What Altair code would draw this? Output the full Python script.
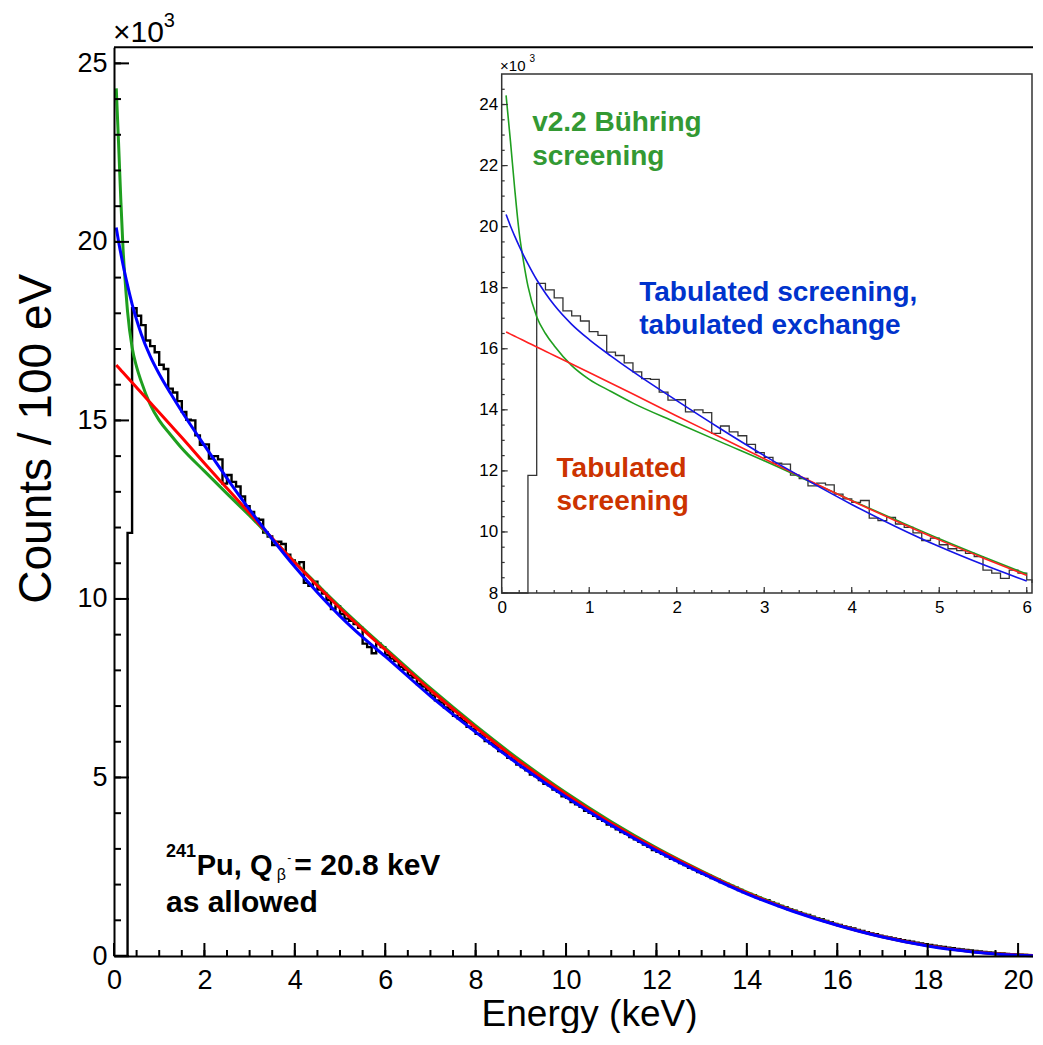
import altair as alt
import pandas as pd

# ---------------- data (counts in units of 10^3 per 100 eV bin) ----------------
BIN_W = 0.1  # keV, bins start at 0.0
HIST_K = [
    0.0, 0.0, 0.0,
    11.85, 18.14, 17.93, 17.67, 17.24, 17.08, 16.91, 16.56,
    16.44, 15.89, 15.78, 15.54, 15.24, 15.02, 15.00, 14.58, 14.32, 14.33,
    13.93, 14.00, 13.91, 13.23, 13.47, 13.28, 13.15, 12.87, 12.60, 12.44,
    12.25, 12.22, 11.86, 11.75, 11.51, 11.60, 11.54, 11.24, 11.08, 10.97,
    11.03, 10.45, 10.37, 10.48, 10.26, 10.15, 9.97, 9.72, 9.80, 9.58,
    9.45, 9.39, 9.30, 9.19, 8.75, 8.65, 8.48, 8.75, 8.65, 8.43,
    8.33, 8.26, 8.10, 8.02, 7.86, 7.80, 7.62, 7.55, 7.44, 7.30,
    7.16, 7.10, 6.96, 6.90, 6.73, 6.66, 6.58, 6.42, 6.36, 6.22,
    6.18, 6.02, 5.96, 5.88, 5.74, 5.70, 5.55, 5.50, 5.36, 5.29,
    5.20, 5.08, 5.04, 4.93, 4.82, 4.78, 4.66, 4.60, 4.47, 4.43,
    4.31, 4.25, 4.18, 4.07, 4.01, 3.93, 3.84, 3.79, 3.68, 3.63,
    3.55, 3.47, 3.42, 3.33, 3.27, 3.20, 3.12, 3.06, 2.97, 2.92,
    2.86, 2.79, 2.72, 2.68, 2.60, 2.55, 2.47, 2.43, 2.35, 2.30,
    2.25, 2.18, 2.14, 2.07, 2.02, 1.96, 1.91, 1.85, 1.79, 1.74,
    1.70, 1.64, 1.59, 1.56, 1.50, 1.46, 1.40, 1.37, 1.31, 1.27,
    1.23, 1.18, 1.15, 1.10, 1.06, 1.03, 0.98, 0.95, 0.90, 0.87,
    0.83, 0.80, 0.77, 0.73, 0.70, 0.67, 0.63, 0.61, 0.57, 0.54,
    0.52, 0.49, 0.47, 0.44, 0.42, 0.40, 0.37, 0.35, 0.33, 0.31,
    0.29, 0.27, 0.25, 0.235, 0.22, 0.20, 0.185, 0.17, 0.155, 0.14,
    0.125, 0.11, 0.10, 0.09, 0.08, 0.068, 0.058, 0.05, 0.042, 0.034,
    0.027, 0.021, 0.016, 0.011, 0.007, 0.004, 0.001,
]

CURVE_E = [0.05, 0.1, 0.15, 0.2, 0.25, 0.3, 0.4, 0.5, 0.6, 0.8, 1.0, 1.25, 1.5,
           2.0, 2.5, 3.0, 3.5, 4.0, 4.5, 5.0, 5.5, 6.0,
           7, 8, 9, 10, 11, 12, 13, 14, 15, 16, 17, 18, 19, 20, 20.8]
GREEN_K = [24.3, 22.8, 21.2, 19.8, 18.85, 18.05, 17.05, 16.5, 16.1, 15.45, 15.0, 14.6, 14.22,
           13.58, 12.95, 12.33, 11.68, 11.03, 10.4, 9.78, 9.19, 8.62,
           7.5, 6.45, 5.47, 4.57, 3.76, 3.03, 2.38, 1.79, 1.29, 0.88, 0.54, 0.29, 0.12, 0.025, 0.0]
RED_K = [16.55, 16.48, 16.41, 16.34, 16.27, 16.2, 16.06, 15.92, 15.78, 15.5, 15.22, 14.87, 14.52,
         13.8, 13.1, 12.4, 11.7, 11.02, 10.37, 9.74, 9.15, 8.58,
         7.45, 6.4, 5.42, 4.53, 3.72, 3.0, 2.36, 1.77, 1.28, 0.87, 0.54, 0.29, 0.12, 0.025, 0.0]
BLUE_K = [20.4, 20.02, 19.68, 19.36, 19.06, 18.78, 18.26, 17.82, 17.43, 16.8, 16.3, 15.76, 15.25,
          14.3, 13.38, 12.5, 11.68, 10.9, 10.18, 9.52, 8.93, 8.39,
          7.28, 6.27, 5.32, 4.45, 3.66, 2.95, 2.32, 1.74, 1.26, 0.86, 0.53, 0.28, 0.115, 0.022, 0.0]

MAIN_X_TICKS = [0, 2, 4, 6, 8, 10, 12, 14, 16, 18, 20]
MAIN_X_MINOR = [i * 0.5 for i in range(0, 41)]
MAIN_Y_TICKS = [0, 5, 10, 15, 20, 25]
MAIN_Y_MINOR = list(range(0, 26))
INSET_X_TICKS = [0, 1, 2, 3, 4, 5, 6]
INSET_X_MINOR = [round(i * 0.2, 1) for i in range(0, 31)]
INSET_Y_TICKS = [8, 10, 12, 14, 16, 18, 20, 22, 24]
INSET_Y_MINOR = [8 + i * 0.5 for i in range(0, 34)]

# annotations: text, x (keV), y (10^3 counts), colour, size
BOLD_TEXT = ["v2.2 Bühring", "screening", "Tabulated screening,", "tabulated exchange",
             "Tabulated", "screening", "241", "Pu, Q", "= 20.8 keV", "as allowed"]
BOLD_X = [9.25, 9.25, 11.62, 11.62, 9.79, 9.79, 1.15, 1.83, 3.99, 1.15]
BOLD_Y = [23.11, 22.16, 18.35, 17.42, 13.42, 12.49, 2.773, 2.269, 2.269, 1.23]
BOLD_C = ["#339933", "#339933", "#0033cc", "#0033cc", "#cc3300", "#cc3300",
          "black", "black", "black", "black"]
BOLD_S = [28, 28, 28, 28, 28, 28, 18, 29, 30, 30]

NORM_TEXT = ["β", "-", "×10", "3", "×10", "3"]
NORM_X = [3.60, 3.83, -0.02, 1.10, 8.54, 9.19]
NORM_Y = [2.13, 2.64, 25.6, 26.02, 24.79, 25.04]
NORM_S = [16, 12, 30, 20, 15, 10]

# ---------------- layout ----------------
PLOT_W, PLOT_H = 919.0, 908.7
X_MAX, Y_MAX = 20.33, 25.45
INS_X, INS_Y = [0, 6.06], [8, 25]
INS_XR, INS_YR = [387.7, 918.0], [545.7, 26.7]
FONT = "Liberation Sans"

edges = [round(i * BIN_W, 1) for i in range(len(HIST_K) + 1)]
hist_df = pd.DataFrame({"E": edges, "v": HIST_K + [HIST_K[-1]]})
curve_df = pd.DataFrame({"E": CURVE_E, "green": GREEN_K, "red": RED_K, "blue": BLUE_K})
frame_df = pd.DataFrame({"x0": [INS_X[0]], "x1": [INS_X[1]], "y0": [INS_Y[0]], "y1": [INS_Y[1]]})
top_df = pd.DataFrame({"y": [Y_MAX]})
bold_df = pd.DataFrame({"t": BOLD_TEXT, "x": BOLD_X, "y": BOLD_Y, "c": BOLD_C, "s": BOLD_S})
norm_df = pd.DataFrame({"t": NORM_TEXT, "x": NORM_X, "y": NORM_Y, "s": NORM_S})


def mxs():
    return alt.Scale(domain=[0, X_MAX], nice=False, zero=False)


def mys():
    return alt.Scale(domain=[0, Y_MAX], nice=False, zero=False)


def ixs():
    return alt.Scale(domain=INS_X, range=INS_XR, nice=False, zero=False, clamp=True)


def iys():
    return alt.Scale(domain=INS_Y, range=INS_YR, nice=False, zero=False, clamp=True)


ax_x_lab = alt.Axis(orient="bottom", values=MAIN_X_TICKS, ticks=False, domain=True,
                    domainColor="black", domainWidth=2, labelFont=FONT, labelFontSize=27,
                    labelColor="black", labelPadding=11, labelOverlap=False, labelFlush=False,
                    format="d", title="Energy (keV)", titleFont=FONT, titleFontSize=37,
                    titleFontWeight="normal", titleColor="black", titleX=475, titleY=69,
                    titleAlign="center", titleBaseline="alphabetic", grid=False, zindex=1)
ax_y_lab = alt.Axis(orient="left", values=MAIN_Y_TICKS, ticks=False, domain=True,
                    domainColor="black", domainWidth=2, labelFont=FONT, labelFontSize=27,
                    labelColor="black", labelPadding=7, labelOverlap=False, labelFlush=False,
                    format="d", title="Counts / 100 eV", titleFont=FONT, titleFontSize=46,
                    titleFontWeight="normal", titleColor="black", titleAngle=270,
                    titleAlign="center", titleBaseline="alphabetic", titleX=-64, titleY=391,
                    grid=False, zindex=1)

ins_x_off = -(PLOT_H - INS_YR[0])
ins_y_off = -INS_XR[0]
ax_ix_lab = alt.Axis(orient="bottom", values=INSET_X_TICKS, ticks=False, domain=False,
                     labelFont=FONT, labelFontSize=17, labelColor="black", labelPadding=6,
                     labelOverlap=False, labelFlush=False, format="d", offset=ins_x_off,
                     title="", grid=False, zindex=1)
ax_iy_lab = alt.Axis(orient="left", values=INSET_Y_TICKS, ticks=False, domain=False,
                     labelFont=FONT, labelFontSize=17, labelColor="black", labelPadding=4,
                     labelOverlap=False, labelFlush=False, format="d", offset=ins_y_off,
                     title="", grid=False, zindex=1)

G_MAIN, R_MAIN, B_MAIN = "#1f9f1f", "#ff0000", "#0000ff"
G_INS, R_INS, B_INS = "#1f9f1f", "#ff2020", "#1414e6"

main_hist = alt.Chart(hist_df).mark_line(interpolate="step-after", color="black",
                                         strokeWidth=2.4).encode(
    x=alt.X("E:Q", scale=mxs(), axis=ax_x_lab),
    y=alt.Y("v:Q", scale=mys(), axis=ax_y_lab))


def main_curve(col, color):
    return alt.Chart(curve_df).mark_line(interpolate="monotone", color=color,
                                         strokeWidth=3).encode(
        x=alt.X("E:Q", scale=mxs(), axis=None),
        y=alt.Y(f"{col}:Q", scale=mys(), axis=None))


def inset_curve(col, color):
    return alt.Chart(curve_df).transform_filter(alt.datum.E <= 6.06).mark_line(
        interpolate="monotone", color=color, strokeWidth=1.6).encode(
        x=alt.X("E:Q", scale=ixs(), axis=None),
        y=alt.Y(f"{col}:Q", scale=iys(), axis=None))


def xticks(values, scale, base, length, color, width):
    df = pd.DataFrame({"t": values})
    return alt.Chart(df).mark_rule(color=color, strokeWidth=width).encode(
        x=alt.X("t:Q", scale=scale, axis=None),
        y=alt.value(base), y2=alt.value(base - length))


def yticks(values, scale, base, length, color, width):
    df = pd.DataFrame({"t": values})
    return alt.Chart(df).mark_rule(color=color, strokeWidth=width).encode(
        y=alt.Y("t:Q", scale=scale, axis=None),
        x=alt.value(base), x2=alt.value(base + length))


top_frame = alt.Chart(top_df).mark_rule(color="black", strokeWidth=2).encode(
    y=alt.Y("y:Q", scale=mys(), axis=None), x=alt.value(0), x2=alt.value(PLOT_W))

inset_frame = alt.Chart(frame_df).mark_rect(fill="white", stroke="#333333",
                                            strokeWidth=1.5).encode(
    x=alt.X("x0:Q", scale=ixs(), axis=ax_ix_lab), x2="x1:Q",
    y=alt.Y("y0:Q", scale=iys(), axis=ax_iy_lab), y2="y1:Q")

inset_hist = alt.Chart(hist_df).transform_filter(alt.datum.E <= 6.15).mark_line(
    interpolate="step-after", color="#333333", strokeWidth=1.3).encode(
    x=alt.X("E:Q", scale=ixs(), axis=None),
    y=alt.Y("v:Q", scale=iys(), axis=None))

bold_text = alt.Chart(bold_df).mark_text(font=FONT, fontWeight="bold", align="left",
                                         baseline="alphabetic").encode(
    x=alt.X("x:Q", scale=mxs(), axis=None),
    y=alt.Y("y:Q", scale=mys(), axis=None),
    text="t:N",
    color=alt.Color("c:N", scale=None),
    size=alt.Size("s:Q", scale=None))

norm_text = alt.Chart(norm_df).mark_text(font=FONT, fontWeight="normal", align="left",
                                         baseline="alphabetic", color="black").encode(
    x=alt.X("x:Q", scale=mxs(), axis=None),
    y=alt.Y("y:Q", scale=mys(), axis=None),
    text="t:N",
    size=alt.Size("s:Q", scale=None))

chart = alt.layer(
    main_hist,
    main_curve("green", G_MAIN), main_curve("red", R_MAIN), main_curve("blue", B_MAIN),
    top_frame,
    xticks(MAIN_X_TICKS, mxs(), PLOT_H, 13, "black", 2),
    xticks(MAIN_X_MINOR, mxs(), PLOT_H, 6, "black", 2),
    yticks(MAIN_Y_TICKS, mys(), 0, 15, "black", 2),
    yticks(MAIN_Y_MINOR, mys(), 0, 7, "black", 2),
    inset_frame, inset_hist,
    inset_curve("green", G_INS), inset_curve("red", R_INS), inset_curve("blue", B_INS),
    xticks(INSET_X_TICKS, ixs(), INS_YR[0], 6, "#333333", 1.2),
    xticks(INSET_X_MINOR, ixs(), INS_YR[0], 3, "#333333", 1.2),
    yticks(INSET_Y_TICKS, iys(), INS_XR[0], 6, "#333333", 1.2),
    yticks(INSET_Y_MINOR, iys(), INS_XR[0], 3, "#333333", 1.2),
    bold_text, norm_text,
).resolve_scale(x="independent", y="independent").properties(
    width=PLOT_W, height=PLOT_H,
    autosize=alt.AutoSizeParams(type="none"),
    padding={"left": 106, "top": 39.3, "right": 0, "bottom": 77},
    background="white",
).configure_view(stroke="transparent")

chart.save("out.html", embed_options={"renderer": "svg", "actions": False})
